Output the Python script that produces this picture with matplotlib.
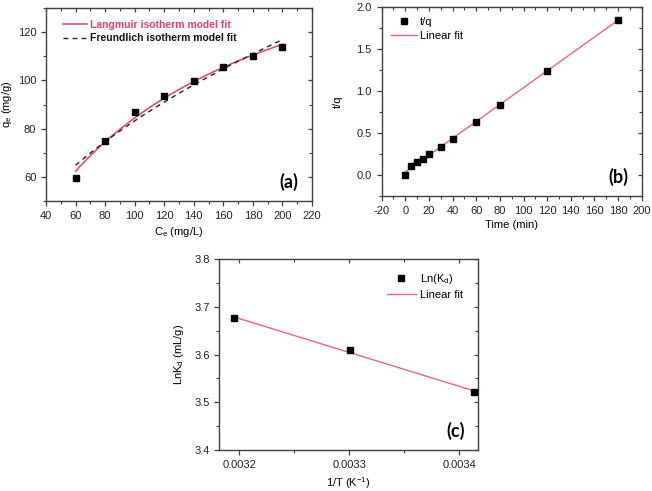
import numpy as np
import matplotlib
matplotlib.use("Agg")
import matplotlib.pyplot as plt
from matplotlib.ticker import AutoMinorLocator, FormatStrFormatter

plt.rcParams['font.family'] = ['Liberation Sans', 'DejaVu Sans']
plt.rcParams['mathtext.default'] = 'regular'
plt.rcParams['axes.unicode_minus'] = False

# ---- data (a): isotherm
ce = [60, 80, 100, 120, 140, 160, 180, 200]
qe = [59.5, 74.7, 87.0, 93.7, 99.9, 105.7, 110.0, 113.8]

# ---- data (b): pseudo-second-order kinetics
time_min = [0, 5, 10, 15, 20, 30, 40, 60, 80, 120, 180]
t_over_q = [0.0, 0.107, 0.151, 0.194, 0.246, 0.337, 0.425, 0.627, 0.833, 1.238, 1.845]

# ---- data (c): van't Hoff
inv_T = [1 / 313.0, 1 / 303.0, 1 / 293.0]
ln_kd = [3.677, 3.609, 3.522]

LANG_COLOR = '#f03c66'
FIT_COLOR = '#f2627f'
SPINE = '#404040'
FS = 8
MS = 4.8


def style(ax):
    for s in ax.spines.values():
        s.set_color(SPINE)
        s.set_linewidth(1.0)
    ax.tick_params(which='both', direction='out', top=False, right=False,
                   colors=SPINE, labelcolor='#222222', labelsize=FS)
    ax.tick_params(which='major', length=3.5, width=0.9)
    ax.tick_params(which='minor', length=2, width=0.8)
    ax.xaxis.set_minor_locator(AutoMinorLocator(2))
    ax.yaxis.set_minor_locator(AutoMinorLocator(2))
    sec_x = ax.secondary_xaxis('top')
    sec_y = ax.secondary_yaxis('right')
    for sec in (sec_x, sec_y):
        sec.tick_params(which='both', direction='in', colors=SPINE, labelsize=0)
        sec.tick_params(which='major', length=3, width=0.9)
        sec.tick_params(which='minor', length=2, width=0.8)
        sec.spines[:].set_visible(False)
    sec_x.set_xticks(ax.get_xticks())
    sec_x.set_xticklabels([])
    sec_x.xaxis.set_minor_locator(AutoMinorLocator(2))
    sec_y.set_yticks(ax.get_yticks())
    sec_y.set_yticklabels([])
    sec_y.yaxis.set_minor_locator(AutoMinorLocator(2))


def lsq_scan(x, y, model, grid):
    best = None
    for p in grid:
        f = model(x, p)
        a = np.dot(f, y) / np.dot(f, f)
        r = np.sum((y - a * f) ** 2)
        if best is None or r < best[0]:
            best = (r, a, p)
    return best[1], best[2]


fig = plt.figure(figsize=(6.52, 4.91), dpi=100)

# ---------------- (a)
ax1 = fig.add_axes([0.0706, 0.5906, 0.408, 0.393])
x = np.array(ce, float)
y = np.array(qe, float)
cc = np.linspace(60, 200, 200)
# Langmuir q = qm*K*C/(1+K*C), least-squares fit to the data
lang = lambda c, k: k * c / (1 + k * c)
qm, kl = lsq_scan(x, y, lang, np.linspace(0.001, 0.05, 5000))
# Freundlich q = Kf*C^(1/n), least-squares fit to the data
freu = lambda c, m: c ** m
kf, m = lsq_scan(x, y, freu, np.linspace(0.2, 1.0, 5000))
ax1.plot(cc, qm * lang(cc, kl), color=LANG_COLOR, lw=1.1,
         label='Langmuir isotherm model fit', zorder=3)
ax1.plot(cc, kf * freu(cc, m), color='#222222', lw=1.0, ls=(0, (3.5, 3)),
         label='Freundlich isotherm model fit', zorder=3)
ax1.plot(ce, qe, 's', color='black', ms=MS, zorder=4)
ax1.set_xlim(40, 220)
ax1.set_ylim(50, 130)
ax1.set_xticks(np.arange(40, 221, 20))
ax1.set_yticks([60, 80, 100, 120])
ax1.set_xlabel('C$_e$ (mg/L)', fontsize=FS, labelpad=3)
ax1.set_ylabel('q$_e$ (mg/g)', fontsize=FS, labelpad=3)
leg = ax1.legend(loc='upper left', bbox_to_anchor=(0.04, 0.97), frameon=False,
                 fontsize=7.5, handlelength=2.3, handletextpad=0.3,
                 labelspacing=0.3, borderaxespad=0.2)
for txt, col in zip(leg.get_texts(), [LANG_COLOR, '#111111']):
    txt.set_color(col)
    txt.set_fontweight('bold')
ax1.text(0.95, 0.10, '(a)', transform=ax1.transAxes, ha='right', va='center',
         fontsize=13, fontweight='bold', family=['Lato', 'DejaVu Sans'])
style(ax1)

# ---------------- (b)
ax2 = fig.add_axes([0.5854, 0.6008, 0.3988, 0.3855])
sb, ib = np.polyfit(time_min, t_over_q, 1)
tt = np.array([min(time_min), max(time_min)], float)
ax2.plot(time_min, t_over_q, 's', color='black', ms=MS, zorder=4, label='t/q')
ax2.plot(tt, sb * tt + ib, color=FIT_COLOR, lw=1.0, zorder=3, label='Linear fit')
ax2.set_xlim(-20, 200)
ax2.set_ylim(-0.25, 2.0)
ax2.set_xticks(np.arange(-20, 201, 20))
ax2.set_yticks([0.0, 0.5, 1.0, 1.5, 2.0])
ax2.yaxis.set_major_formatter(FormatStrFormatter('%.1f'))
ax2.set_xlabel('Time (min)', fontsize=FS, labelpad=3)
ax2.set_ylabel('t/q', fontsize=FS, labelpad=10)
ax2.legend(loc='upper left', bbox_to_anchor=(0.01, 0.98), frameon=False,
           fontsize=8, handlelength=2.3, handletextpad=0.3,
           labelspacing=0.35, borderaxespad=0.2)
ax2.text(0.95, 0.10, '(b)', transform=ax2.transAxes, ha='right', va='center',
         fontsize=13, fontweight='bold', family=['Lato', 'DejaVu Sans'])
style(ax2)

# ---------------- (c)
ax3 = fig.add_axes([0.3364, 0.0835, 0.3963, 0.3884])
sc, ic = np.polyfit(inv_T, ln_kd, 1)
xx = np.array([min(inv_T), max(inv_T)])
ax3.plot(inv_T, ln_kd, 's', color='black', ms=MS, zorder=4, label='Ln(K$_d$)')
ax3.plot(xx, sc * xx + ic, color=FIT_COLOR, lw=1.0, zorder=3, label='Linear fit')
ax3.set_xlim(0.003182, 0.0034167)
ax3.set_ylim(3.4, 3.8)
ax3.set_xticks([0.0032, 0.0033, 0.0034])
ax3.set_xticklabels(['0.0032', '0.0033', '0.0034'])
ax3.set_yticks([3.4, 3.5, 3.6, 3.7, 3.8])
ax3.yaxis.set_major_formatter(FormatStrFormatter('%.1f'))
ax3.set_xlabel('1/T (K$^{-1}$)', fontsize=FS, labelpad=4)
ax3.set_ylabel('LnK$_d$ (mL/g)', fontsize=FS, labelpad=6)
ax3.legend(loc='upper right', bbox_to_anchor=(0.97, 0.97), frameon=False,
           fontsize=8, handlelength=2.6, handletextpad=0.4,
           labelspacing=0.35, borderaxespad=0.2)
ax3.text(0.95, 0.10, '(c)', transform=ax3.transAxes, ha='right', va='center',
         fontsize=13, fontweight='bold', family=['Lato', 'DejaVu Sans'])
style(ax3)

fig.savefig('out.png', dpi=100)
